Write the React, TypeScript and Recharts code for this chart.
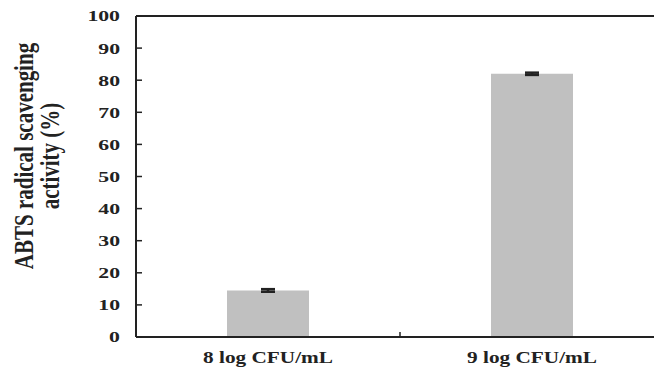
import { BarChart, Bar, XAxis, YAxis, ErrorBar, ReferenceLine } from "recharts";

const categories = ["8 log CFU/mL", "9 log CFU/mL"];
const activity = [14.5, 82.0];
const errors = [0.4, 0.35];
const yTicks = [0, 10, 20, 30, 40, 50, 60, 70, 80, 90, 100];

const data = categories.map((name, i) => ({
  name,
  value: activity[i],
  err: errors[i],
}));

const FONT = "'Liberation Serif', 'Times New Roman', serif";
const INK = "#222";

function YTick(props: any) {
  const { x, y, payload } = props;
  return (
    <g>
      <line x1={x} y1={y} x2={x + 6} y2={y} stroke={INK} strokeWidth={1.5} />
      <g transform={`translate(${x - 16},${y})`}>
        <text
          textAnchor="end"
          dy="0.36em"
          transform="scale(1.45,1)"
          fontFamily={FONT}
          fontWeight="bold"
          fontSize={15}
          fill={INK}
        >
          {payload.value}
        </text>
      </g>
    </g>
  );
}

function XTick(props: any) {
  const { x, y, payload, index } = props;
  const half = payload.offset ?? 132;
  return (
    <g>
      {index === 0 && (
        <line x1={x + half} y1={y} x2={x + half} y2={y - 5} stroke={INK} strokeWidth={1.5} />
      )}
      <g transform={`translate(${x},${y + 26})`}>
        <text
          textAnchor="middle"
          transform="scale(1.33,1)"
          fontFamily={FONT}
          fontWeight="bold"
          fontSize={16}
          fill={INK}
        >
          {payload.value}
        </text>
      </g>
    </g>
  );
}

function YLabel() {
  const common = {
    textAnchor: "middle" as const,
    fontFamily: FONT,
    fontWeight: "bold",
    fontSize: 21,
    fill: INK,
  };
  return (
    <g>
      <text transform="translate(33,156) rotate(-90) scale(1,1.3)" {...common}>
        ABTS radical scavenging
      </text>
      <text transform="translate(59,156) rotate(-90) scale(1,1.3)" {...common}>
        activity (%)
      </text>
    </g>
  );
}

export default function App() {
  return (
    <div
      style={{
        position: "absolute",
        left: 0,
        top: 0,
        width: 654,
        height: 370,
        overflow: "hidden",
        background: "#fff",
      }}
    >
      <BarChart
        width={680}
        height={370}
        data={data}
        margin={{ top: 16, right: 16, bottom: 3, left: 106 }}
        barCategoryGap="0%"
      >
        <XAxis
          dataKey="name"
          tickLine={false}
          tickSize={0}
          tickMargin={0}
          tick={<XTick />}
          axisLine={{ stroke: INK, strokeWidth: 2 }}
          interval={0}
          height={30}
        />
        <YAxis
          domain={[0, 100]}
          ticks={yTicks}
          tickLine={false}
          tickSize={0}
          tickMargin={0}
          tick={<YTick />}
          axisLine={{ stroke: INK, strokeWidth: 2 }}
          width={30}
          label={{ content: () => <YLabel /> }}
        />
        <ReferenceLine y={100} stroke={INK} strokeWidth={2} />
        <Bar dataKey="value" fill="#c0c0c0" barSize={82} isAnimationActive={false}>
          <ErrorBar dataKey="err" width={7} stroke={INK} strokeWidth={2.5} direction="y" />
        </Bar>
      </BarChart>
    </div>
  );
}
